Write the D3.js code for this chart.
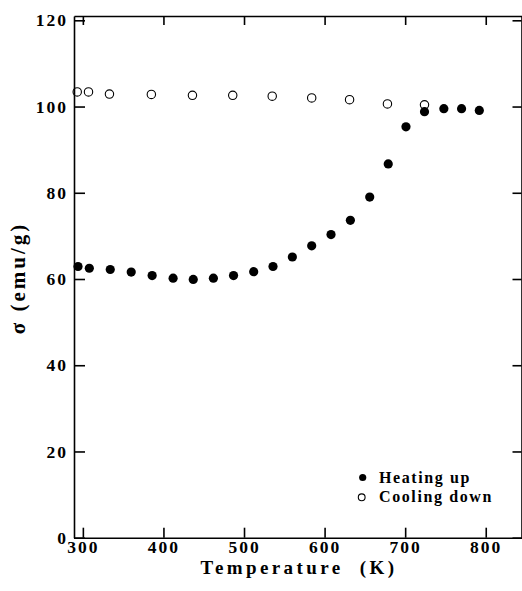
<!DOCTYPE html>
<html lang="en">
<head>
<meta charset="utf-8">
<title>Magnetization vs temperature</title>
<script src="https://d3js.org/d3.v7.min.js"></script>
<style>
  body { margin: 0; background: #fff; }
  svg { display: block; }
  .axis text { font-family: "Liberation Serif", "Times New Roman", serif; font-weight: bold; font-size: 17.5px; letter-spacing: 2px; fill: #000; }
  .axis path, .axis line { stroke: #000; stroke-width: 1.6px; }
  .title { font-family: "Liberation Serif", "Times New Roman", serif; font-weight: bold; fill: #000; }
  .legend { font-family: "Liberation Serif", "Times New Roman", serif; font-weight: bold; font-size: 16px; letter-spacing: 1.6px; fill: #000; }
</style>
</head>
<body>
<div id="chart"></div>
<script>
// heating up (filled dots)
var heatT = [294, 308, 334, 360, 386, 412, 437, 462, 487, 512, 536, 560, 584, 608, 632, 656, 679, 701, 724, 748, 770, 792];
var heatS = [62.9, 62.5, 62.2, 61.6, 60.8, 60.2, 59.9, 60.2, 60.8, 61.7, 62.9, 65.1, 67.7, 70.3, 73.6, 79.0, 86.7, 95.3, 98.8, 99.5, 99.5, 99.1];

// cooling down (open circles)
var coolT = [293, 307, 333, 385, 436, 486, 535, 584, 631, 678, 724];
var coolS = [103.4, 103.4, 102.9, 102.8, 102.6, 102.6, 102.4, 102.0, 101.6, 100.6, 100.4];

var xTicks = [300, 400, 500, 600, 700, 800];
var yTicks = [0, 20, 40, 60, 80, 100, 120];
var legendLabels = ["Heating up", "Cooling down"];

var w = 522, h = 591;
var padL = 74, padR = 522, padT = 16, padB = 537.7;

var svg = d3.select("#chart").append("svg")
  .attr("width", w)
  .attr("height", h);

var xScale = d3.scaleLinear().domain([289, 845]).range([padL, padR]);
var yScale = d3.scaleLinear().domain([0, 121]).range([padB, padT]);

// axes, ticks point inward
svg.append("g")
  .attr("class", "axis")
  .attr("transform", "translate(0," + padB + ")")
  .call(d3.axisBottom(xScale).tickValues(xTicks).tickSizeInner(-10).tickSizeOuter(0).tickPadding(3).tickFormat(d3.format("d")));

svg.append("g")
  .attr("class", "axis")
  .attr("transform", "translate(" + padL + ",0)")
  .call(d3.axisLeft(yScale).tickValues(yTicks).tickSizeInner(-11).tickSizeOuter(0).tickPadding(6).tickFormat(d3.format("d")));

svg.append("g")
  .attr("class", "axis")
  .attr("transform", "translate(0," + padT + ")")
  .call(d3.axisTop(xScale).tickValues(xTicks).tickSizeInner(-9).tickSizeOuter(0).tickFormat(""));

svg.append("g")
  .attr("class", "axis")
  .attr("transform", "translate(" + (padR - 0.5) + ",0)")
  .call(d3.axisRight(yScale).tickValues(yTicks).tickSizeInner(-9).tickSizeOuter(0).tickFormat(""));

// data
var heat = heatT.map(function(t, i) { return { t: t, s: heatS[i] }; });
var cool = coolT.map(function(t, i) { return { t: t, s: coolS[i] }; });

svg.selectAll("circle.cool")
  .data(cool)
  .enter()
  .append("circle")
  .attr("class", "cool")
  .attr("cx", function(d) { return xScale(d.t); })
  .attr("cy", function(d) { return yScale(d.s); })
  .attr("r", 4.2)
  .style("fill", "none")
  .style("stroke", "#000")
  .style("stroke-width", 1.1);

svg.selectAll("circle.heat")
  .data(heat)
  .enter()
  .append("circle")
  .attr("class", "heat")
  .attr("cx", function(d) { return xScale(d.t); })
  .attr("cy", function(d) { return yScale(d.s); })
  .attr("r", 4.6)
  .style("fill", "#000");

// legend
var lg = svg.append("g");
lg.append("circle").attr("cx", 362.7).attr("cy", 477.5).attr("r", 3.6).style("fill", "#000");
lg.append("circle").attr("cx", 361.7).attr("cy", 497.3).attr("r", 3.4)
  .style("fill", "none").style("stroke", "#000").style("stroke-width", 1.1);
lg.selectAll("text")
  .data(legendLabels)
  .enter()
  .append("text")
  .attr("class", "legend")
  .attr("x", 379)
  .attr("y", function(d, i) { return 482.7 + i * 19; })
  .attr("xml:space", "preserve")
  .text(function(d) { return d; });

// axis titles
svg.append("text")
  .attr("class", "title")
  .attr("x", 299)
  .attr("y", 574)
  .attr("text-anchor", "middle")
  .style("font-size", "19px")
  .style("letter-spacing", "3.4px")
  .attr("xml:space", "preserve")
  .text("Temperature  (K)");

svg.append("text")
  .attr("class", "title")
  .attr("transform", "translate(25,278) rotate(-90)")
  .attr("text-anchor", "middle")
  .style("font-size", "21px")
  .style("letter-spacing", "3px")
  .text("σ (emu/g)");
</script>
</body>
</html>
